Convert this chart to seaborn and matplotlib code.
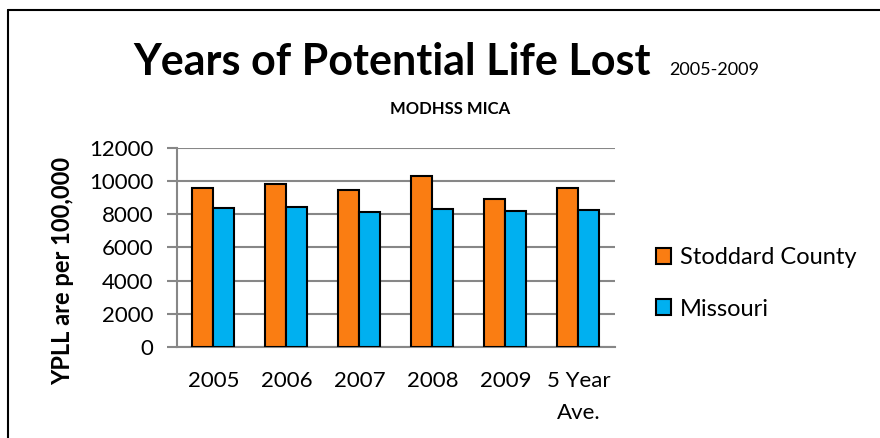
import matplotlib
matplotlib.use("Agg")
import matplotlib.pyplot as plt
import pandas as pd
import seaborn as sns

# data
years = ["2005", "2006", "2007", "2008", "2009", "5 Year\nAve."]
stoddard = [9570, 9810, 9450, 10310, 8940, 9610]
missouri = [8360, 8440, 8140, 8320, 8220, 8280]
series_names = ["Stoddard County", "Missouri"]
colors = ["#FA7D12", "#00B0F0"]

df = pd.DataFrame({
    "year": years * 2,
    "yppl": stoddard + missouri,
    "area": [series_names[0]] * len(years) + [series_names[1]] * len(years),
})

sns.set_style("white")
plt.rcParams["font.family"] = ["Lato", "DejaVu Sans"]
plt.rcParams["text.color"] = "black"
plt.rcParams["xtick.color"] = "black"
plt.rcParams["ytick.color"] = "black"
plt.rcParams["axes.labelcolor"] = "black"

fig = plt.figure(figsize=(8.8, 4.38), dpi=100)
ax = fig.add_axes([0.2011, 0.2078, 0.4977, 0.4543])

sns.barplot(data=df, x="year", y="yppl", hue="area", hue_order=series_names,
            palette=colors, saturation=1, width=0.575, gap=0, edgecolor="black",
            linewidth=1.5, ax=ax, zorder=3)

ax.set_ylim(0, 12000)
ax.set_yticks(range(0, 12001, 2000))
ax.set_xlim(-0.5, len(years) - 0.5)
ax.yaxis.grid(True, color="#878787", linewidth=1.5, zorder=0)
ax.set_axisbelow(True)
for side in ["top", "right"]:
    ax.spines[side].set_visible(False)
for side in ["left", "bottom"]:
    ax.spines[side].set_color("#878787")
    ax.spines[side].set_linewidth(1.5)
ax.tick_params(axis="y", left=True, length=7, width=1.5, color="#878787",
               labelcolor="black", labelsize=16, pad=10)
ax.tick_params(axis="x", bottom=False, labelsize=16, pad=14)
for lbl in ax.get_xticklabels():
    lbl.set_linespacing(1.75)
ax.set_xlabel("")
ax.set_ylabel("YPLL are per 100,000", fontsize=17, fontweight="bold")
ax.yaxis.set_label_coords(-0.235, 0.382)

leg = ax.legend(loc="center left", bbox_to_anchor=(1.045, 0.32), frameon=False,
                fontsize=17, handlelength=0.65, handleheight=0.65,
                handletextpad=0.35, labelspacing=1.3)

# titles
fig.text(0.445, 0.829, "Years of Potential Life Lost", ha="center", va="baseline",
         fontsize=31, fontweight="bold")
fig.text(0.761, 0.829, "2005-2009", ha="left", va="baseline", fontsize=13)
fig.text(0.512, 0.74, "MODHSS MICA", ha="center", va="baseline",
         fontsize=12, fontweight="bold")

# frame of the embedded chart (left and top edges visible)
fig.add_artist(plt.Line2D([0.009, 0.009], [0.0, 0.978], color="black", linewidth=1.5))
fig.add_artist(plt.Line2D([0.009, 1.0], [0.978, 0.978], color="black", linewidth=1.5))

fig.savefig("out.png", dpi=100)
